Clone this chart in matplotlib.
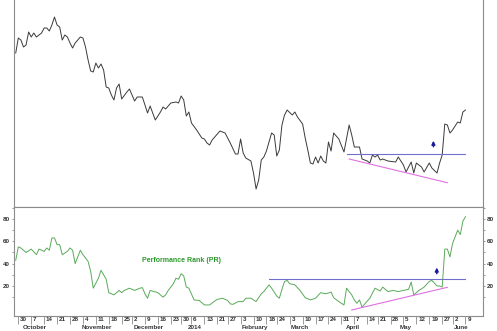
import pandas as pd
import matplotlib as mpl
from matplotlib import pyplot as plt

mpl.use("Agg")

mpl.rcParams["font.family"] = "Liberation Sans"
mpl.rcParams["font.weight"] = "bold"

holidays = ["2013-11-28", "2013-12-25", "2014-01-01", "2014-01-20",
            "2014-02-17", "2014-04-18", "2014-05-26"]
sessions = pd.bdate_range("2013-09-27", "2014-06-13", freq="C", holidays=holidays)

# price line, trading-session index -> price level (no scale shown)
price_idx = [0, 1, 2, 3, 4, 5, 6, 7, 8, 10, 11, 12, 13, 14, 15, 16, 17, 18, 19, 20,
             21, 22, 23, 25, 26, 27, 28, 29, 30, 31, 32, 33, 34, 35, 36, 37, 38, 39,
             40, 41, 43, 44, 46, 47, 49, 51, 52, 54, 56, 57, 58, 60, 62, 63, 64, 65,
             66, 67, 68, 70, 72, 73, 74, 75, 76, 79, 81, 83, 85, 86, 87, 88, 89, 91,
             92, 93, 94, 95, 96, 97, 99, 100, 101, 102, 103, 104, 105, 107, 108, 109,
             111, 112, 113, 114, 115, 116, 117, 118, 119, 120, 121, 122, 123, 125,
             127, 129, 130, 131, 133, 134, 136, 137, 138, 139, 140, 141, 142, 144,
             147, 148, 150, 151, 153, 154, 155, 157, 158, 160, 161, 163, 164, 165,
             166, 167, 168, 169, 170, 171, 172, 173, 174]
price_val = [154, 169, 167, 160, 162, 175, 170, 174, 170, 174, 179, 179, 176, 182, 190,
             182, 180, 167, 172, 170, 164, 159, 164, 170, 169, 160, 147, 136, 135, 144,
             139, 143, 137, 120, 119, 112, 107, 119, 123, 108, 115, 118, 106, 110, 110,
             94, 101, 87, 95, 100, 98, 104, 105, 104, 111, 107, 91, 95, 84, 77, 69, 68,
             64, 62, 67, 76, 74, 64, 53, 53, 68, 54, 49, 46, 34, 18, 27, 47, 50, 56, 74,
             72, 51, 57, 82, 92, 97, 92, 95, 90, 83, 69, 57, 44, 43, 50, 44, 51, 46, 44,
             65, 56, 74, 68, 55, 82, 72, 60, 60, 48, 46, 44, 52, 50, 52, 47, 48, 46, 45,
             50, 42, 35, 45, 34, 44, 40, 35, 44, 39, 34, 44, 52, 83, 82, 74, 77, 81, 85,
             84, 95, 97]

# performance rank
pr_idx = [0, 1, 2, 4, 6, 8, 9, 11, 12, 13, 14, 15, 16, 17, 18, 20, 21, 22, 23, 25,
          26, 28, 29, 30, 32, 33, 35, 36, 37, 38, 40, 41, 42, 44, 46, 48, 49, 50, 51,
          52, 55, 57, 58, 59, 61, 62, 63, 64, 65, 66, 67, 69, 71, 73, 75, 77, 78, 80,
          82, 83, 84, 86, 88, 89, 91, 93, 95, 96, 98, 99, 101, 102, 103, 104, 105, 106,
          108, 110, 112, 114, 116, 118, 120, 122, 123, 125, 127, 128, 130, 131, 132,
          133, 134, 136, 137, 139, 141, 142, 144, 146, 148, 150, 152, 153, 154, 156,
          158, 160, 161, 163, 164, 165, 166, 167, 168, 169, 170, 171, 172, 173, 174]
pr_val = [43, 55, 54, 50, 53, 48, 53, 51, 54, 52, 63, 63, 57, 57, 48, 51, 54, 52, 40,
          52, 48, 42, 33, 18, 27, 34, 26, 14, 13, 12, 16, 14, 16, 18, 16, 18, 18.5, 13,
          9, 16, 14, 10, 12, 16, 22, 27, 26, 31, 29, 19, 18, 7.5, 7, 3, 3, 6.5, 8, 9, 7,
          4, 3.5, 6, 6, 9, 9, 6, 13, 15, 21, 18, 11, 9, 17, 24, 25, 22, 21, 16, 9.5,
          7.5, 9, 14, 13, 14.5, 9.5, 6, 3, 18, 12, 7.5, 4.5, 7.5, 1, 6.5, 9, 18, 15.5,
          19, 15, 16, 15, 16, 17, 23.5, 12, 16, 19, 24, 25, 20, 20, 19, 53, 53, 46, 58,
          64, 70, 66, 78, 82]

# trend lines: (start idx, end idx, start value, end value)
price_resist = (128, 174, 53, 53)
price_support = (129, 167, 48, 24.3)
pr_resist = (98, 174, 26, 26)
pr_support = (130, 167, -1.5, 18.8)
price_arrow = (161.6, 60.3, 66.3)
pr_arrow = (162.9, 31, 36.5)

month_names = {1: "2014", 2: "February", 3: "March", 4: "April", 5: "May", 6: "June",
               10: "October", 11: "November", 12: "December"}

last_idx = 174
week_ticks = [i for i in range(1, last_idx + 1)
              if sessions[i].dayofweek < sessions[i - 1].dayofweek]
month_ticks = [i for i in range(1, last_idx + 1)
               if sessions[i].month != sessions[i - 1].month]

spine_c = "#8c8c8c"
label_c = "#333333"

fig = plt.figure(figsize=(4.97, 3.31), dpi=100)
ax_top = fig.add_axes([0.0282, 0.3746, 0.9437, 0.6254])
ax_pr = fig.add_axes([0.0282, 0.0453, 0.9437, 0.3293])

for ax in (ax_top, ax_pr):
    ax.set_xlim(-0.66, 180.8)
    for s in ax.spines.values():
        s.set_color(spine_c)
        s.set_linewidth(0.8)

ax_top.spines["top"].set_visible(False)
ax_top.spines["bottom"].set_color("#555555")
ax_top.set_ylim(0, 207)
ax_top.set_xticks([])
ax_top.set_yticks([])
ax_top.plot(price_idx, price_val, color="#3a3a3a", lw=0.7)
ax_top.plot(price_resist[:2], price_resist[2:], color="#7070cc", lw=0.8)
ax_top.plot(price_support[:2], price_support[2:], color="#e070e0", lw=0.8)
ax_top.annotate("", xy=(price_arrow[0], price_arrow[2]), xytext=(price_arrow[0], price_arrow[1]),
                arrowprops=dict(arrowstyle="-|>", color="#1a1a99", lw=1.1, mutation_scale=5,
                                shrinkA=0, shrinkB=0))

ax_pr.set_ylim(-6.9, 90.7)
ax_pr.plot(pr_idx, pr_val, color="#5aaa5a", lw=0.7)
ax_pr.plot(pr_resist[:2], pr_resist[2:], color="#7070cc", lw=0.8)
ax_pr.plot(pr_support[:2], pr_support[2:], color="#e070e0", lw=0.8)
ax_pr.annotate("", xy=(pr_arrow[0], pr_arrow[2]), xytext=(pr_arrow[0], pr_arrow[1]),
               arrowprops=dict(arrowstyle="-|>", color="#1a1a99", lw=1.1, mutation_scale=5,
                               shrinkA=0, shrinkB=0))
ax_pr.text(64.2, 42.4, "Performance Rank (PR)", color="#2a9a2a", fontsize=5,
           fontweight="bold", ha="center", va="center")

ax_pr.set_yticks([20, 40, 60, 80])
ax_pr.set_yticks([10, 30, 50, 70, 90], minor=True)
ax_pr.tick_params(axis="y", which="both", left=True, right=True, labelleft=True,
                  labelright=True, direction="out", length=1.5, width=0.6,
                  color=spine_c, labelsize=4.5, labelcolor=label_c, pad=1.2)

ax_pr.set_xticks(week_ticks)
ax_pr.set_xticklabels([])
ax_pr.tick_params(axis="x", direction="out", length=5.5, width=0.6, color=spine_c)

for i in week_ticks:
    ax_pr.annotate(str(sessions[i].day), xy=(i, 0), xycoords=ax_pr.get_xaxis_transform(),
                   xytext=(1.3, -0.8), textcoords="offset points", ha="left", va="top",
                   fontsize=4.5, color=label_c)
for i in month_ticks:
    ax_pr.annotate(month_names[sessions[i].month], xy=(i, 0),
                   xycoords=ax_pr.get_xaxis_transform(), xytext=(1.0, -6.3),
                   textcoords="offset points", ha="left", va="top",
                   fontsize=4.5, color=label_c)

fig.savefig("out.png", dpi=100)
plt.close(fig)
